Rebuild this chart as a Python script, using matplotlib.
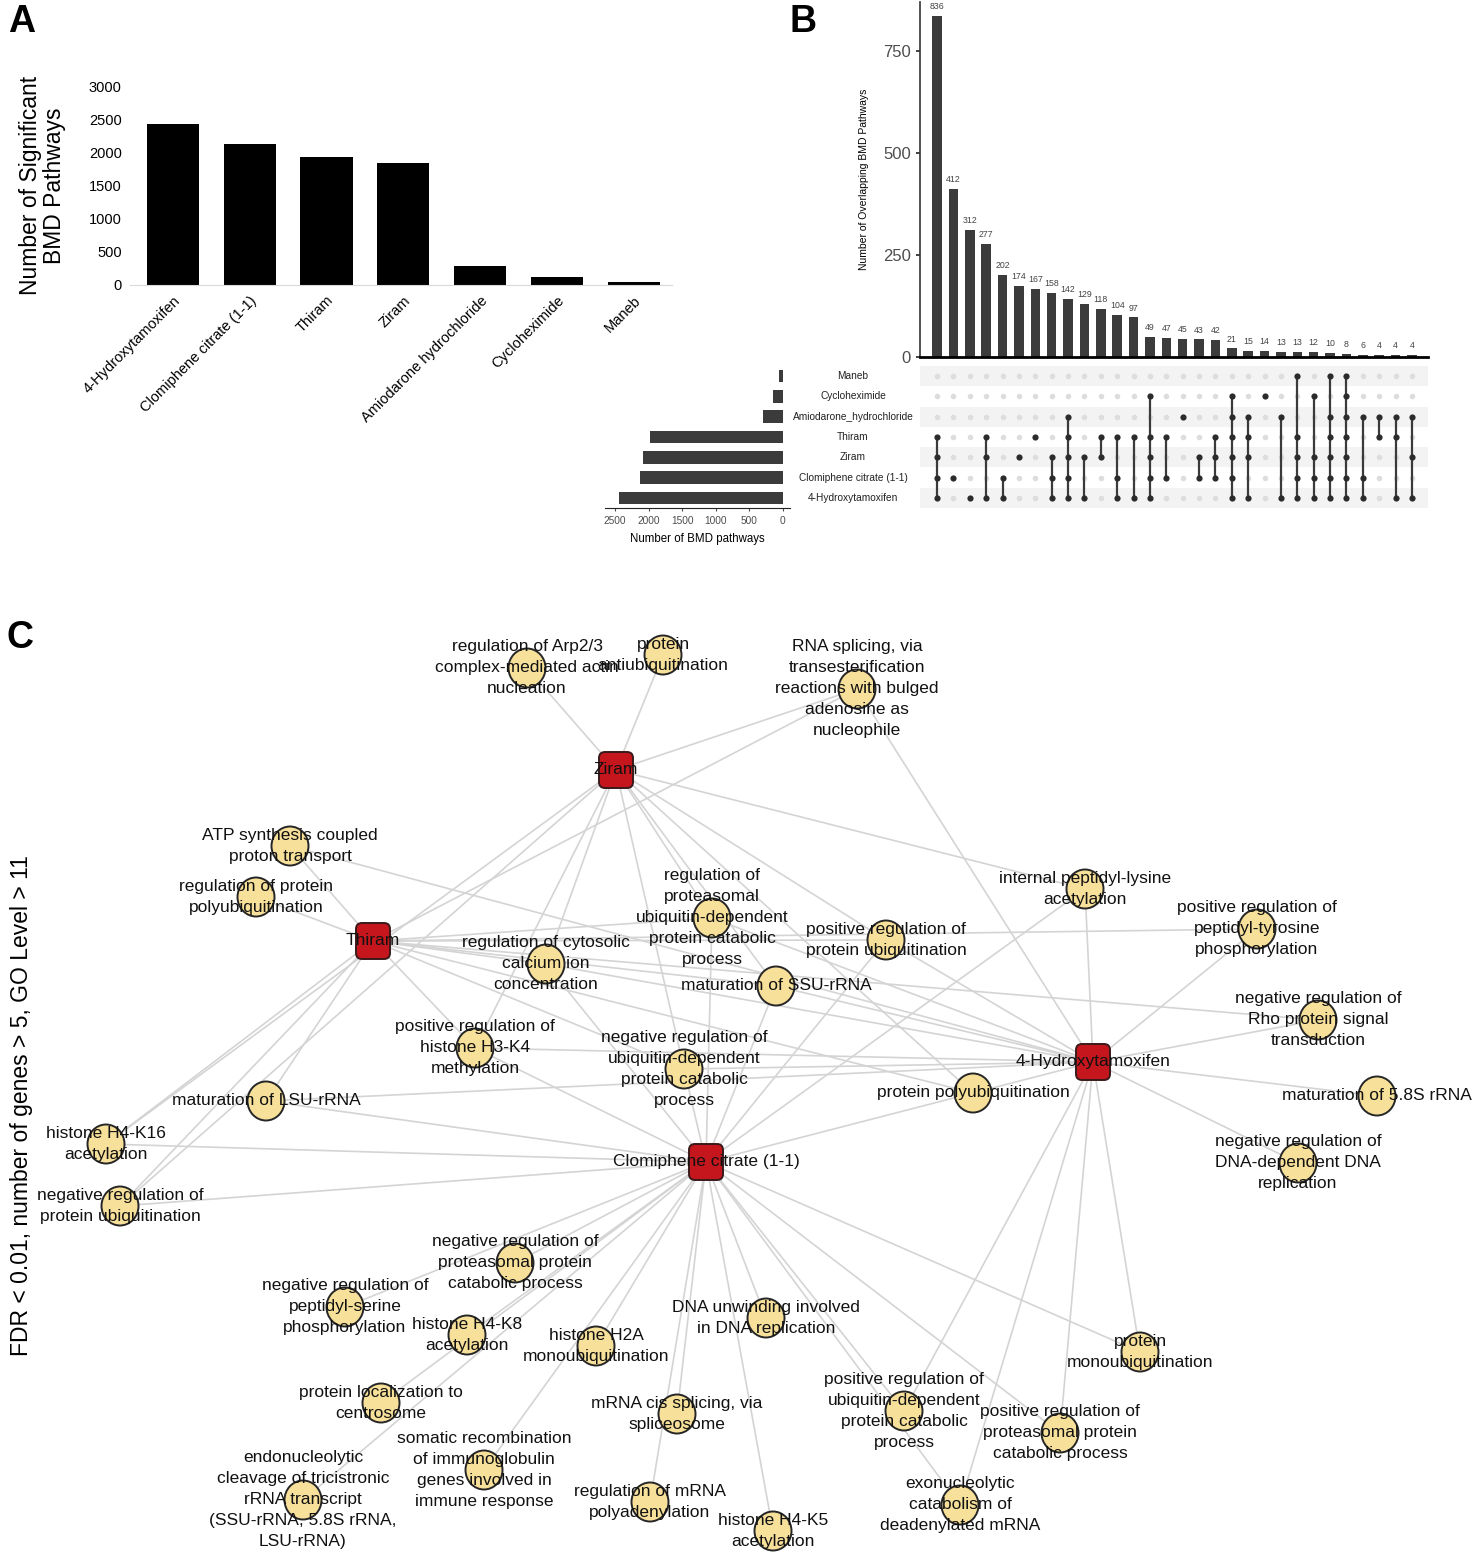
import matplotlib
matplotlib.use("Agg")
import matplotlib.pyplot as plt
from matplotlib.patches import Ellipse, FancyBboxPatch
from matplotlib.transforms import blended_transform_factory

plt.rcParams['font.family'] = ['Liberation Sans', 'DejaVu Sans']

# ---- panel A data
a_chems = ["4-Hydroxytamoxifen", "Clomiphene citrate (1-1)", "Thiram", "Ziram",
           "Amiodarone hydrochloride", "Cycloheximide", "Maneb"]
a_counts = [2432, 2121, 1930, 1839, 281, 126, 40]

# ---- panel B data (upset)
set_names = ["4-Hydroxytamoxifen", "Clomiphene citrate (1-1)", "Ziram", "Thiram",
             "Amiodarone_hydrochloride", "Cycloheximide", "Maneb"]
set_codes = ["H", "C", "Z", "T", "A", "Y", "M"]
set_sizes = [2440, 2130, 2080, 1980, 300, 140, 55]
combos = ["TZCH", "C", "H", "TZH", "CH", "Z", "T", "ZCH", "ATZCH", "ZH",
          "TZ", "TCH", "TH", "YTZCH", "TC", "A", "ZC", "TZC", "YATZCH", "ATZH",
          "Y", "AH", "MTZCH", "YZCH", "MATZCH", "MYATZCH", "ACH", "AT", "ATH", "AZH"]
combo_counts = [836, 412, 312, 277, 202, 174, 167, 158, 142, 129,
                118, 104, 97, 49, 47, 45, 43, 42, 21, 15,
                14, 13, 13, 12, 10, 8, 6, 4, 4, 4]

# ---- panel C data (network, layout coordinates)
hub_names = ["Ziram", "Thiram", "4-Hydroxytamoxifen", "Clomiphene citrate (1-1)"]
hub_codes = ["Z", "T", "H", "C"]
hub_x = [616, 373, 1093, 706]
hub_y = [770, 941, 1062, 1162]

path_names = [
    "regulation of Arp2/3\ncomplex-mediated actin\nnucleation",
    "protein\nantiubiquitination",
    "RNA splicing, via\ntransesterification\nreactions with bulged\nadenosine as\nnucleophile",
    "ATP synthesis coupled\nproton transport",
    "regulation of protein\npolyubiquitination",
    "regulation of\nproteasomal\nubiquitin-dependent\nprotein catabolic\nprocess",
    "internal peptidyl-lysine\nacetylation",
    "positive regulation of\nprotein ubiquitination",
    "positive regulation of\npeptidyl-tyrosine\nphosphorylation",
    "regulation of cytosolic\ncalcium ion\nconcentration",
    "maturation of SSU-rRNA",
    "negative regulation of\nRho protein signal\ntransduction",
    "positive regulation of\nhistone H3-K4\nmethylation",
    "negative regulation of\nubiquitin-dependent\nprotein catabolic\nprocess",
    "protein polyubiquitination",
    "maturation of 5.8S rRNA",
    "maturation of LSU-rRNA",
    "histone H4-K16\nacetylation",
    "negative regulation of\nDNA-dependent DNA\nreplication",
    "negative regulation of\nprotein ubiquitination",
    "negative regulation of\nproteasomal protein\ncatabolic process",
    "negative regulation of\npeptidyl-serine\nphosphorylation",
    "histone H4-K8\nacetylation",
    "histone H2A\nmonoubiquitination",
    "DNA unwinding involved\nin DNA replication",
    "protein\nmonoubiquitination",
    "protein localization to\ncentrosome",
    "mRNA cis splicing, via\nspliceosome",
    "positive regulation of\nubiquitin-dependent\nprotein catabolic\nprocess",
    "positive regulation of\nproteasomal protein\ncatabolic process",
    "somatic recombination\nof immunoglobulin\ngenes involved in\nimmune response",
    "endonucleolytic\ncleavage of tricistronic\nrRNA transcript\n(SSU-rRNA, 5.8S rRNA,\nLSU-rRNA)",
    "regulation of mRNA\npolyadenylation",
    "histone H4-K5\nacetylation",
    "exonucleolytic\ncatabolism of\ndeadenylated mRNA",
]
path_x = [527, 663, 857, 290, 256, 712, 1085, 886, 1257, 546, 776, 1318, 475, 684, 973,
          1377, 266, 106, 1298, 120, 515, 345, 467, 596, 766, 1140, 381, 677, 904, 1060,
          484, 303, 650, 773, 960]
path_y = [668, 655, 689, 846, 897, 918, 889, 940, 929, 964, 986, 1020, 1048, 1069, 1093,
          1096, 1101, 1144, 1163, 1206, 1263, 1307, 1335, 1346, 1318, 1352, 1403, 1414, 1411, 1433,
          1470, 1500, 1502, 1531, 1505]
# which chemicals each pathway is linked to
path_links = ["Z", "Z", "ZTH", "TH", "T", "ZTHC", "ZHC", "ZTHC", "TH", "ZTHC", "ZTHC",
              "TH", "ZTHC", "ZTHC", "ZTHC", "H", "THC", "ZTC", "H", "ZTC", "C", "C", "C",
              "C", "C", "HC", "C", "C", "HC", "HC", "C", "C", "C", "C", "HC"]

W, H = 1478, 1560
fig = plt.figure(figsize=(W / 100, H / 100), dpi=100)


def box(x0, y0, x1, y1):
    # pixel box (top-left origin) -> figure fraction rect
    return [x0 / W, 1 - y1 / H, (x1 - x0) / W, (y1 - y0) / H]


# ================= panel A
ax_a = fig.add_axes(box(130, 86, 672, 285))
ax_a.bar(range(len(a_counts)), a_counts, width=0.68, color='black')
ax_a.set_ylim(0, 3000)
ax_a.set_xlim(-0.56, 6.5)
ax_a.set_yticks(range(0, 3001, 500))
ax_a.set_xticks(range(len(a_chems)))
ax_a.set_xticklabels(a_chems, rotation=45, ha='right', rotation_mode='anchor', fontsize=10.5)
ax_a.tick_params(length=0, labelsize=10.5, pad=6)
for s in ['top', 'right', 'left']:
    ax_a.spines[s].set_visible(False)
ax_a.spines['bottom'].set_color('#d9d9d9')
ax_a.set_ylabel("Number of Significant\nBMD Pathways", fontsize=16.5, linespacing=1.05)
ax_a.yaxis.set_label_coords(-0.118, 0.5)

# ================= panel B: intersection bars
dark = '#3b3b3b'
ncol = len(combo_counts)
ax_b = fig.add_axes(box(920, 2, 1428, 357))
ax_b.bar(range(ncol), combo_counts, width=0.58, color=dark)
for i, v in enumerate(combo_counts):
    ax_b.text(i, v + 12, str(v), ha='center', va='bottom', fontsize=6.3, color='#444444')
ax_b.set_xlim(-1.04, ncol - 0.02)
ax_b.set_ylim(0, 870)
ax_b.set_yticks([0, 250, 500, 750])
ax_b.set_xticks([])
ax_b.tick_params(axis='y', labelsize=12, colors='#4d4d4d', length=3, width=1.2)
ax_b.tick_params(axis='y', color='#222222')
for s in ['top', 'right']:
    ax_b.spines[s].set_visible(False)
ax_b.spines['left'].set_color('#333333')
ax_b.spines['left'].set_linewidth(1.2)
ax_b.spines['bottom'].set_color('black')
ax_b.spines['bottom'].set_linewidth(2)
ax_b.set_ylabel("Number of Overlapping BMD Pathways", fontsize=7.5, labelpad=10)

# matrix
ax_m = fig.add_axes(box(920, 366, 1428, 508))
ax_m.set_xlim(-1.04, ncol - 0.02)
ax_m.set_ylim(-0.5, 6.5)
for r in range(0, 7, 2):
    ax_m.axhspan(r - 0.5, r + 0.5, color='#f3f3f3', lw=0)
for i, combo in enumerate(combos):
    rows = [r for r, c in enumerate(set_codes) if c in combo]
    off = [r for r in range(7) if r not in rows]
    ax_m.scatter([i] * len(off), off, s=16, color='#dddddd', zorder=2, lw=0)
    if len(rows) > 1:
        ax_m.plot([i, i], [min(rows), max(rows)], color=dark, lw=1.6, zorder=3)
    ax_m.scatter([i] * len(rows), rows, s=20, color='#2b2b2b', zorder=4, lw=0)
ax_m.axis('off')

tr = blended_transform_factory(fig.transFigure, ax_m.transData)
for r, n in enumerate(set_names):
    ax_m.text(853 / W, r, n, transform=tr, ha='center', va='center', fontsize=7.3, color='#222222')

# set sizes
ax_s = fig.add_axes(box(605, 366, 790, 508))
ax_s.barh(range(len(set_sizes)), set_sizes, height=0.62, color=dark)
ax_s.set_xlim(2650, -110)
ax_s.set_ylim(-0.5, 6.5)
ax_s.set_xticks([2500, 2000, 1500, 1000, 500, 0])
ax_s.set_yticks([])
ax_s.tick_params(axis='x', labelsize=7.3, colors='#4d4d4d', length=2)
for s in ['top', 'right', 'left']:
    ax_s.spines[s].set_visible(False)
ax_s.spines['bottom'].set_color('#222222')
ax_s.set_xlabel("Number of BMD pathways", fontsize=8.3, labelpad=5)

# ================= panel C: network
ax_c = fig.add_axes(box(0, 580, W, H))
ax_c.set_xlim(0, W)
ax_c.set_ylim(H, 580)
ax_c.axis('off')

hub_pos = dict(zip(hub_codes, zip(hub_x, hub_y)))
for px, py, links in zip(path_x, path_y, path_links):
    for c in links:
        hx, hy = hub_pos[c]
        ax_c.plot([px, hx], [py, hy], color='#d4d4d4', lw=1.2, zorder=1)

for px, py in zip(path_x, path_y):
    ax_c.add_patch(Ellipse((px, py), 37, 39, facecolor='#f7e09a', edgecolor='#262626', lw=1.4, zorder=2))
for hx, hy in zip(hub_x, hub_y):
    ax_c.add_patch(FancyBboxPatch((hx - 15, hy - 16), 30, 32, boxstyle="round,pad=2,rounding_size=6",
                                  facecolor='#c4161c', edgecolor='#3a1a1a', lw=1.4, zorder=2))

for n, px, py in zip(path_names, path_x, path_y):
    ax_c.text(px, py, n, ha='center', va='center', fontsize=12.5, linespacing=1.5,
              zorder=3, color='#111111')
for n, hx, hy in zip(hub_names, hub_x, hub_y):
    ax_c.text(hx, hy, n, ha='center', va='center', fontsize=12.5,
              zorder=3, color='#111111')

fig.text(22 / W, 1 - 1106 / H, "FDR < 0.01, number of genes > 5, GO Level > 11",
         rotation=90, ha='center', va='center', fontsize=16.5)

# panel letters
fig.text(8 / W, 1 - 4 / H, "A", fontsize=27, fontweight='bold', va='top')
fig.text(790 / W, 1 - 4 / H, "B", fontsize=27, fontweight='bold', va='top')
fig.text(6 / W, 1 - 620 / H, "C", fontsize=27, fontweight='bold', va='top')

fig.savefig("out.png", dpi=100)
